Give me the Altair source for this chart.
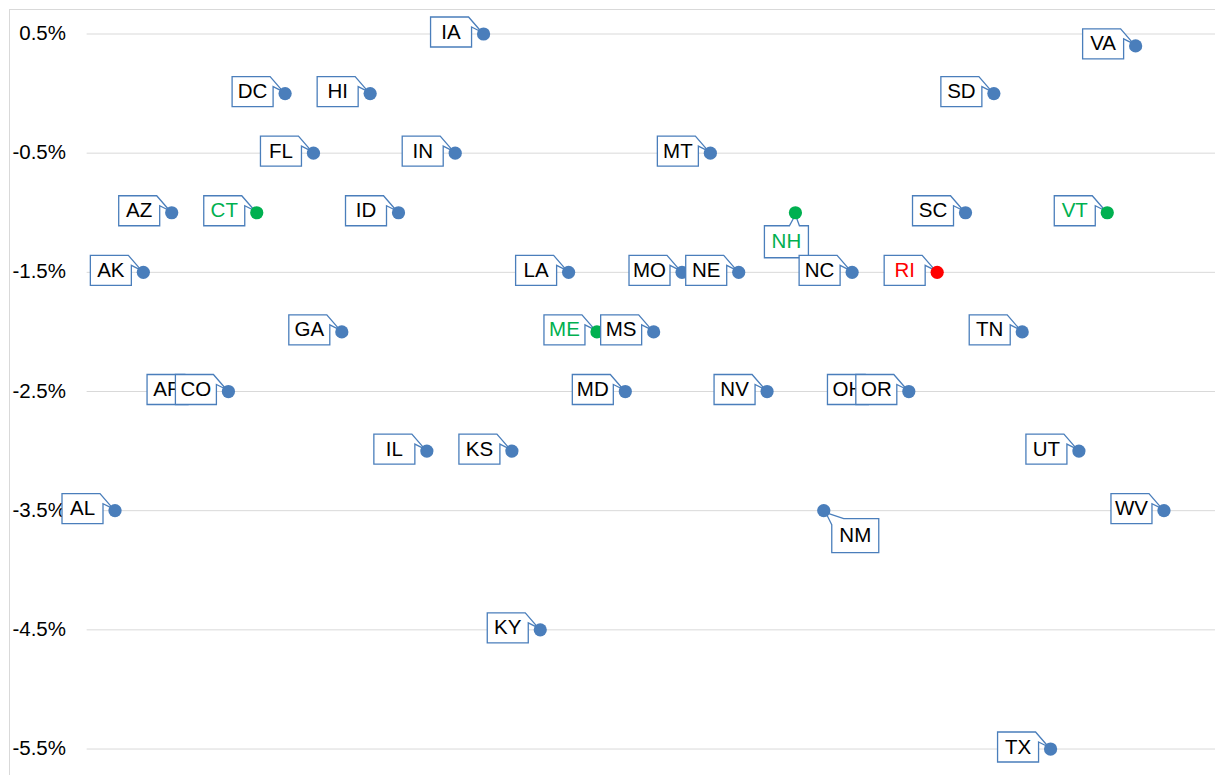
import altair as alt
import pandas as pd

# ---------------- data ----------------
states = ["AL", "AK", "AZ", "AR", "CO", "CT", "DC", "FL", "GA", "HI", "ID", "IL",
          "IN", "IA", "KS", "KY", "LA", "ME", "MD", "MS", "MO", "MT", "NE", "NV",
          "NH", "NM", "NC", "OH", "OR", "RI", "SC", "SD", "TN", "TX", "UT", "VT",
          "VA", "WV"]
values = [-3.5, -1.5, -1.0, -2.5, -2.5, -1.0, 0.0, -0.5, -2.0, 0.0, -1.0, -3.0,
          -0.5, 0.5, -3.0, -4.5, -1.5, -2.0, -2.5, -2.0, -1.5, -0.5, -1.5, -2.5,
          -1.0, -3.5, -1.5, -2.5, -2.5, -1.5, -1.0, 0.0, -2.0, -5.5, -3.0, -1.0,
          0.4, -3.5]
green_states = ["CT", "ME", "NH", "VT"]
red_states = ["RI"]
groups = ["New England" if s in green_states else ("Rhode Island" if s in red_states else "Other")
          for s in states]
y_ticks = [0.5, -0.5, -1.5, -2.5, -3.5, -4.5, -5.5]

df = pd.DataFrame({"state": states, "value": values, "group": groups,
                   "pos": list(range(1, len(states) + 1))})
ticks_df = pd.DataFrame({"v": y_ticks})

# ---------------- styling ----------------
W, H = 1206, 766
FONT = "Liberation Sans"
BLUE = "#4A7EBB"
GRID = "#D9D9D9"
point_colors = {"Other": BLUE, "New England": "#00B050", "Rhode Island": "#FF0000"}
text_colors = {"Other": "#000000", "New England": "#00B050", "Rhode Island": "#FF0000"}

xscale = alt.Scale(domain=[-2.739, 39.80], nice=False, zero=False)
yscale = alt.Scale(domain=[-5.718, 0.7098], nice=False, zero=False)

# callout shapes (path in pixels relative to the point; size=4 -> scale 1)
SHAPES = {
    "left": ("M -53 -17 L -15 -17 L -2 -2 L -12 -7 L -12 13 L -53 13 Z", -32.5, -1.5),
    "below": ("M -31 13 L -6 13 L 0 2 L 4 13 L 13 13 L 13 45 L -31 45 Z", -9, 29.5),
    "belowright": ("M 8 14 L 2 2 L 20 8 L 55 8 L 55 42 L 8 42 Z", 31.5, 25.5),
}
label_side = {"NH": "below", "NM": "belowright"}

# ---------------- layers ----------------
frame_df = pd.DataFrame({"k": [0]})
frame_top = alt.Chart(frame_df).mark_rule(color=GRID, strokeWidth=1).encode(
    x=alt.value(0), x2=alt.value(W), y=alt.value(0.5))
frame_left = alt.Chart(frame_df).mark_rule(color=GRID, strokeWidth=1).encode(
    x=alt.value(0.5), y=alt.value(0), y2=alt.value(H))

grid = alt.Chart(ticks_df).mark_rule(color=GRID, strokeWidth=1).encode(
    y=alt.Y("v:Q", scale=yscale, axis=None),
    x=alt.XDatum(0, type="quantitative", scale=xscale, axis=None),
    x2=alt.value(W),
)

ylabels = alt.Chart(ticks_df).transform_calculate(
    lab="(datum.v < 0 ? '-' : '') + format(abs(datum.v), '.1f') + '%'"
).mark_text(align="right", baseline="middle", font=FONT, fontSize=20.5, color="#000000").encode(
    y=alt.Y("v:Q", scale=yscale, axis=None),
    x=alt.value(57),
    text="lab:N",
)

# each state in order: callout box, its text, then its marker on top
state_layers = []
for s, g in zip(states, groups):
    path, dx, dy = SHAPES[label_side.get(s, "left")]
    base = alt.Chart(df).transform_filter(alt.datum.state == s).encode(
        x=alt.X("pos:Q", scale=xscale, axis=None),
        y=alt.Y("value:Q", scale=yscale, axis=None),
    )
    box = base.mark_point(shape=path, size=4, fill="white", stroke=BLUE, strokeWidth=1.3,
                          fillOpacity=1, strokeOpacity=1, opacity=1)
    txt = base.mark_text(dx=dx, dy=dy, align="center", baseline="middle", font=FONT,
                         fontSize=20.5, color=text_colors[g]).encode(text="state:N")
    dot = base.mark_circle(size=175, opacity=1, color=point_colors[g])
    state_layers.extend([box, txt, dot])

chart = alt.layer(frame_top, frame_left, grid, ylabels, *state_layers).properties(
    width=W, height=H,
    autosize=alt.AutoSizeParams(type="none"),
    padding={"left": 1, "top": 1, "right": 0, "bottom": 0},
    background="white",
).configure_view(stroke=None)

chart.save("out.html", embed_options={"renderer": "svg", "actions": False})
